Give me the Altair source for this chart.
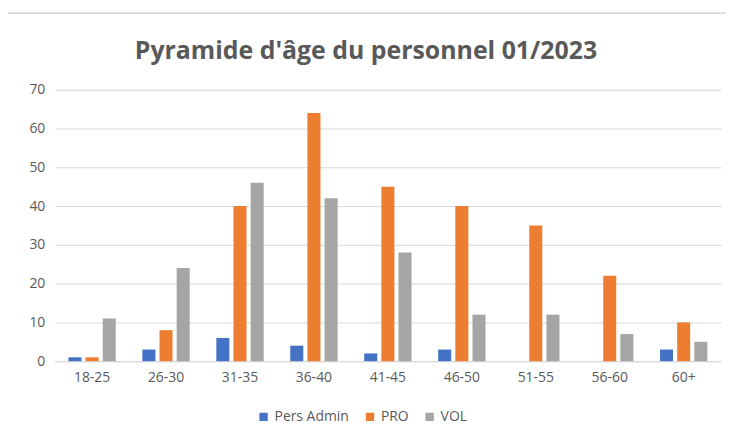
import altair as alt
import pandas as pd

categories = ["18-25", "26-30", "31-35", "36-40", "41-45", "46-50", "51-55", "56-60", "60+"]
series = ["Pers Admin", "PRO", "VOL"]
pers_admin = [1, 3, 6, 4, 2, 3, 0, 0, 3]
pro = [1, 8, 40, 64, 45, 40, 35, 22, 10]
vol = [11, 24, 46, 42, 28, 12, 12, 7, 5]
colors = ["#4472C4", "#ED7D31", "#A5A5A5"]
title_text = "Pyramide d'âge du personnel 01/2023"

rows = []
for i, c in enumerate(categories):
    for s, vals in zip(series, [pers_admin, pro, vol]):
        rows.append({"age": c, "serie": s, "value": vals[i]})
df = pd.DataFrame(rows)
title_df = pd.DataFrame({"t": [title_text]})

FONT = "Open Sans"

bars = alt.Chart(df).mark_bar().encode(
    x=alt.X("age:N", sort=categories, title=None,
            scale=alt.Scale(paddingInner=0.36, paddingOuter=0.185),
            axis=alt.Axis(labelAngle=0, ticks=False, domainColor="#d9d9d9",
                          labelColor="#595959", labelFontSize=14, labelFont=FONT, labelPadding=9)),
    xOffset=alt.XOffset("serie:N", sort=series, scale=alt.Scale(paddingInner=0.24)),
    y=alt.Y("value:Q", title=None,
            scale=alt.Scale(domain=[0, 70]),
            axis=alt.Axis(values=list(range(0, 71, 10)), ticks=False, domain=False,
                          gridColor="#d9d9d9", labelColor="#595959", labelFontSize=14,
                          labelFont=FONT, labelPadding=10)),
    color=alt.Color("serie:N", sort=series, scale=alt.Scale(domain=series, range=colors),
                    legend=alt.Legend(orient="none", legendX=203, legendY=322, direction="horizontal",
                                      title=None, symbolType="square",
                                      symbolSize=70, labelFontSize=14, labelColor="#595959",
                                      labelFont=FONT, columnPadding=14, symbolStrokeWidth=0)),
)

border = alt.Chart(title_df).mark_rule(color="#d9d9d9", strokeWidth=2).encode(
    x=alt.value(-47), x2=alt.value(675), y=alt.value(-77)
)

title = alt.Chart(title_df).mark_text(
    font=FONT, fontSize=25, fontWeight="bold", color="#595959", align="center", baseline="middle"
).encode(x=alt.value(313), y=alt.value(-39), text="t:N")

chart = alt.layer(bars, border, title).properties(
    width=670, height=273,
    autosize=alt.AutoSizeParams(type="none"),
    padding={"left": 47, "top": 81, "right": 5, "bottom": 62},
).configure_view(stroke=None)

chart.save("out.html", embed_options={"renderer": "svg", "actions": False})
